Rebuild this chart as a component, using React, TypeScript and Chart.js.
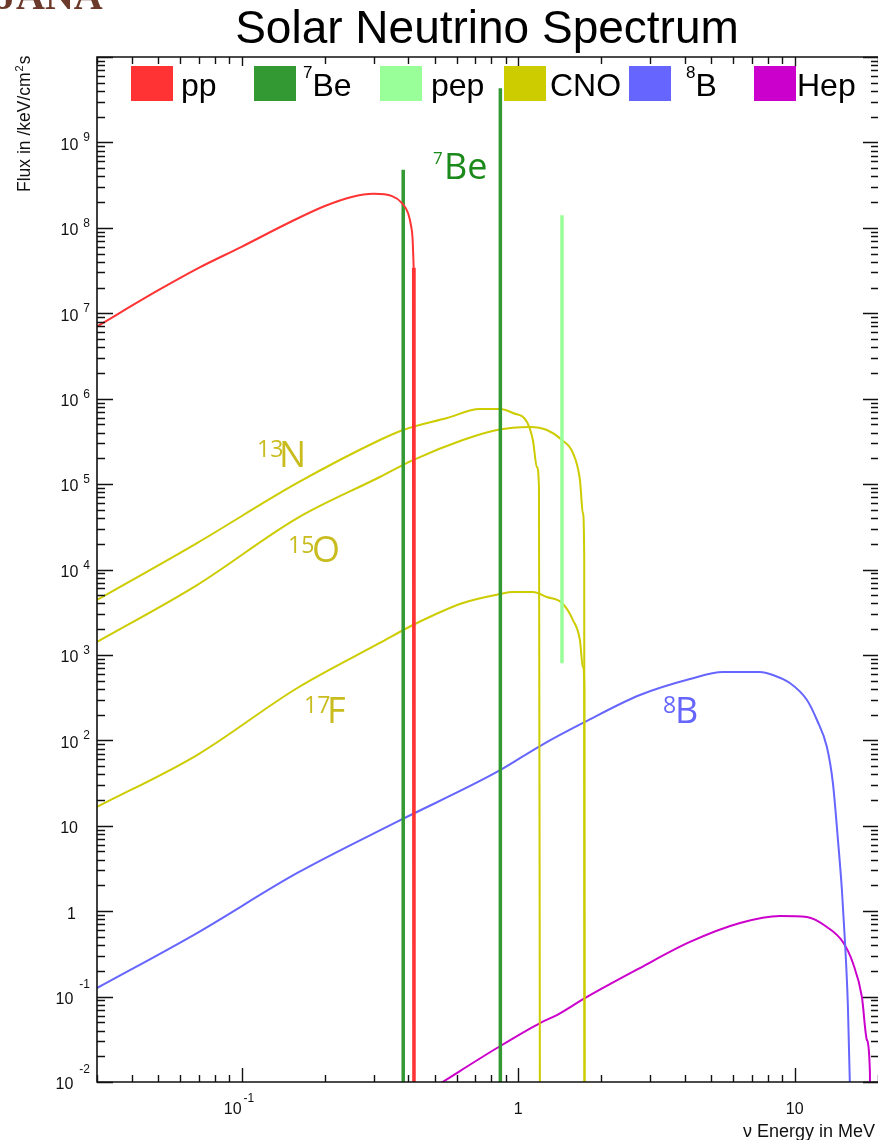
import React, { useEffect, useRef } from "react";
import { Chart, registerables } from "chart.js";

Chart.register(...registerables);

// ---- axis ranges ----
const xMin = 0.03;
const xMax = 20;
const yMin = 0.01;
const yMax = 1e10;

// ---- tick labels ----
const yLabelExponents = [-2, -1, 0, 1, 2, 3, 4, 5, 6, 7, 8, 9];
const xLabelExponents = [-1, 0, 1];

// ---- series (energy in MeV, flux in /keV/cm2s) ----
const ppEnergy = [0.03, 0.05, 0.07, 0.1, 0.15, 0.2, 0.25, 0.3, 0.35, 0.38, 0.4, 0.41, 0.415, 0.419, 0.42];
const ppFlux = [7.0e6, 1.86e7, 3.4e7, 6.0e7, 1.17e8, 1.8e8, 2.3e8, 2.5e8, 2.35e8, 1.95e8, 1.48e8, 1.05e8, 7.6e7, 3.4e7, 1e-3];

const be7Energy = [0.384, 0.862];
const be7Flux = [4.8e8, 4.3e9];

const pepEnergy = [1.44];
const pepFluxTop = [1.4e8];
const pepFluxBottom = [800];

const lineFloor = 1e-3;

const n13Energy = [0.03, 0.069, 0.159, 0.316, 0.384, 0.553, 0.727, 0.86, 0.957, 1.076, 1.13, 1.169, 1.189, 1.199];
const n13Flux = [4.4e3, 2.04e4, 1.03e5, 3.28e5, 4.3e5, 5.93e5, 7.56e5, 7.56e5, 6.79e5, 5.33e5, 3.28e5, 1.58e5, 9.2e4, 1e-3];

const o15Energy = [0.03, 0.069, 0.159, 0.316, 0.4165, 0.631, 0.838, 1.103, 1.27, 1.44, 1.578, 1.672, 1.714, 1.733, 1.735];
const o15Flux = [1.42e3, 6.58e3, 4.0e4, 1.21e5, 1.91e5, 3.28e5, 4.3e5, 4.66e5, 4.3e5, 3.28e5, 2.31e5, 1.12e5, 4.58e4, 1.4e4, 1e-3];

const f17Energy = [0.03, 0.069, 0.159, 0.316, 0.4165, 0.631, 0.86, 0.957, 1.13, 1.27, 1.44, 1.578, 1.672, 1.714, 1.735, 1.74];
const f17Flux = [16.6, 67.3, 410, 1.38e3, 2.24e3, 4.05e3, 5.16e3, 5.45e3, 5.45e3, 4.76e3, 4.05e3, 2.56e3, 1.49e3, 721, 450, 1e-3];

const b8Energy = [0.03, 0.069, 0.159, 0.364, 0.838, 1.199, 1.743, 2.755, 4.18, 5.5, 7.48, 8.34, 9.6, 11.07, 12.03, 13.07, 13.74, 14.33, 14.81, 15.18, 15.57, 16.09];
const b8Flux = [0.126, 0.555, 2.8, 11.1, 42.6, 85.8, 164, 339, 522, 631, 631, 582, 469, 297, 173, 83.5, 31.6, 6.8, 1.77, 0.459, 0.0755, 1e-3];

const hepEnergy = [0.52, 0.838, 1.199, 1.38, 1.743, 2.755, 4.18, 6.34, 8.84, 11.07, 13.07, 14.93, 16.23, 17.49, 18.24, 18.7, 18.75];
const hepFlux = [0.0095, 0.025, 0.049, 0.0608, 0.096, 0.216, 0.436, 0.726, 0.877, 0.855, 0.653, 0.436, 0.247, 0.099, 0.031, 0.0127, 1e-3];

// ---- legend ----
const legendSup = ["", "7", "", "", "8", ""];
const legendText = ["pp", "Be", "pep", "CNO", "B", "Hep"];
const legendColors = ["#ff3333", "#339933", "#99ff99", "#cccc00", "#6666ff", "#cc00cc"];

const SANS = '"Liberation Sans", Arial, Helvetica, sans-serif';
const LABEL = '"Open Sans", "Noto Sans", sans-serif';

const pts = (xs: number[], ys: number[]) => xs.map((x, i) => ({ x, y: ys[i] }));

const ds = (label: string, data: any[], color: string, width: number, smooth = false) => ({
  label,
  data,
  borderColor: color,
  backgroundColor: color,
  borderWidth: width,
  pointRadius: 0,
  pointHoverRadius: 0,
  fill: false,
  tension: 0,
  cubicInterpolationMode: smooth ? "monotone" : "default",
  clip: 0,
});

const decor = {
  id: "decor",
  afterDatasetsDraw(chart: any) {
    const { ctx, chartArea: a } = chart;
    const xs = chart.scales.x;
    const ys = chart.scales.y;
    ctx.save();

    // frame
    ctx.strokeStyle = "#111";
    ctx.lineWidth = 1.6;
    ctx.beginPath();
    ctx.moveTo(a.right + 2, a.top);
    ctx.lineTo(a.left, a.top);
    ctx.lineTo(a.left, a.bottom);
    ctx.lineTo(a.right + 2, a.bottom);
    ctx.stroke();

    // ticks
    ctx.lineWidth = 1.4;
    ctx.beginPath();
    for (let n = -2; n <= 10; n++) {
      for (let k = 1; k <= 9; k++) {
        const v = k * Math.pow(10, n);
        if (v < yMin * 0.999 || v > yMax * 1.001) continue;
        const py = Math.round(ys.getPixelForValue(v)) + 0.5;
        const major = k === 1;
        ctx.moveTo(a.left, py);
        ctx.lineTo(a.left + (major ? 16 : 8), py);
        ctx.moveTo(a.right, py);
        ctx.lineTo(a.right - (major ? 15 : 7), py);
      }
    }
    for (let n = -2; n <= 1; n++) {
      for (let k = 1; k <= 9; k++) {
        const v = k * Math.pow(10, n);
        if (v < xMin * 0.999 || v > xMax * 1.001) continue;
        const px = Math.round(xs.getPixelForValue(v)) + 0.5;
        const major = k === 1;
        ctx.moveTo(px, a.bottom);
        ctx.lineTo(px, a.bottom - (major ? 14 : 7));
        ctx.moveTo(px, a.top);
        ctx.lineTo(px, a.top + (major ? 9 : 7));
      }
    }
    ctx.stroke();

    // y tick labels
    ctx.fillStyle = "#111";
    for (const n of yLabelExponents) {
      const py = ys.getPixelForValue(Math.pow(10, n));
      ctx.textBaseline = "middle";
      if (n === 0 || n === 1) {
        ctx.font = `16px ${SANS}`;
        ctx.textAlign = "right";
        ctx.fillText(n === 0 ? "1" : "10", n === 0 ? 76 : 78, py + 3);
        continue;
      }
      const e = String(n);
      ctx.font = `12px ${SANS}`;
      const w = ctx.measureText(e).width;
      const expLeft = 90 - w;
      ctx.textAlign = "left";
      ctx.textBaseline = "alphabetic";
      ctx.fillText(e, expLeft, n < 0 ? py - 9 : py - 1);
      ctx.font = `16px ${SANS}`;
      ctx.textAlign = "right";
      ctx.textBaseline = "middle";
      ctx.fillText("10", expLeft - (n < 0 ? 6 : 5), py + 3);
    }

    // x tick labels
    for (const n of xLabelExponents) {
      const px = xs.getPixelForValue(Math.pow(10, n));
      ctx.textBaseline = "middle";
      ctx.font = `16px ${SANS}`;
      if (n === 0 || n === 1) {
        ctx.textAlign = "center";
        ctx.fillText(n === 0 ? "1" : "10", px, 1110);
        continue;
      }
      ctx.textAlign = "right";
      ctx.fillText("10", px, 1110);
      ctx.font = `12px ${SANS}`;
      ctx.textAlign = "left";
      ctx.textBaseline = "alphabetic";
      ctx.fillText(String(n), px + 2, 1102);
    }

    // axis titles
    ctx.font = `18px ${SANS}`;
    ctx.textAlign = "left";
    ctx.textBaseline = "alphabetic";
    ctx.fillText("\u03bd Energy in MeV", 743, 1137);

    ctx.save();
    ctx.translate(30, 192);
    ctx.rotate(-Math.PI / 2);
    ctx.font = `17.5px ${SANS}`;
    let tx = 0;
    ctx.fillText("Flux in /keV/cm", tx, 0);
    tx += ctx.measureText("Flux in /keV/cm").width + 1;
    ctx.font = `11px ${SANS}`;
    ctx.fillText("2", tx, -7);
    tx += ctx.measureText("2").width + 1;
    ctx.font = `17.5px ${SANS}`;
    ctx.fillText("s", tx, 0);
    ctx.restore();

    // title
    ctx.font = `46px ${SANS}`;
    ctx.textAlign = "center";
    ctx.fillStyle = "#000";
    ctx.fillText("Solar Neutrino Spectrum", 487, 43);

    // logo fragment
    ctx.font = `bold 40px "Liberation Serif", "DejaVu Serif", serif`;
    ctx.textAlign = "left";
    ctx.fillStyle = "#6b3a2a";
    ctx.fillText("JANA", -4, 9);

    // legend
    const boxX = [131, 254, 380, 504, 629, 754];
    const textX = [181, 303, 431, 550, 686, 797];
    for (let i = 0; i < legendText.length; i++) {
      ctx.fillStyle = legendColors[i];
      ctx.fillRect(boxX[i], 66, 42, 35);
      ctx.fillStyle = "#000";
      ctx.textAlign = "left";
      let x0 = textX[i];
      if (legendSup[i]) {
        ctx.font = `17px ${SANS}`;
        ctx.fillText(legendSup[i], x0, 78);
        x0 += ctx.measureText(legendSup[i]).width;
      }
      ctx.font = `32px ${SANS}`;
      ctx.fillText(legendText[i], x0, 96);
    }

    // curve annotations
    const ann = (sup: string, supSize: number, supX: number, supY: number, main: string, mainX: number, mainY: number, color: string) => {
      ctx.fillStyle = color;
      ctx.textAlign = "left";
      ctx.font = `${supSize}px ${LABEL}`;
      ctx.fillText(sup, supX, supY);
      ctx.font = `36px ${LABEL}`;
      ctx.fillText(main, mainX, mainY);
    };
    ann("7", 17, 433, 164, "Be", 444, 179, "#1b8a1b");
    ann("13", 23, 257, 457, "N", 279, 467, "#c8bc1e");
    ann("15", 23, 288, 553, "O", 312, 562, "#c8bc1e");
    ann("17", 23, 304, 713, "F", 327, 723, "#c8bc1e");
    ann("8", 23, 663, 713, "B", 675, 723, "#6666ff");

    ctx.restore();
  },
};

export default function App() {
  const ref = useRef<HTMLCanvasElement>(null);

  useEffect(() => {
    const canvas = ref.current;
    if (!canvas) return;
    const nPP = ppEnergy.length;
    const datasets = [
      ds("pp", pts(ppEnergy.slice(0, nPP - 1), ppFlux.slice(0, nPP - 1)), legendColors[0], 2, true),
      ds("pp-edge", pts(ppEnergy.slice(nPP - 2), ppFlux.slice(nPP - 2)), legendColors[0], 3.5),
      ...be7Energy.map((e, i) =>
        ds("7Be", [{ x: e, y: be7Flux[i] }, { x: e, y: lineFloor }], legendColors[1], 3.5)
      ),
      ...pepEnergy.map((e, i) =>
        ds("pep", [{ x: e, y: pepFluxTop[i] }, { x: e, y: pepFluxBottom[i] }], legendColors[2], 3.5)
      ),
      ds("13N", pts(n13Energy, n13Flux), legendColors[3], 2, true),
      ds("15O", pts(o15Energy, o15Flux), legendColors[3], 2, true),
      ds("17F", pts(f17Energy, f17Flux), legendColors[3], 2, true),
      ds("8B", pts(b8Energy, b8Flux), legendColors[4], 2, true),
      ds("Hep", pts(hepEnergy, hepFlux), legendColors[5], 2, true),
    ];
    const chart = new Chart(canvas, {
      type: "line",
      data: { datasets } as any,
      options: {
        responsive: false,
        animation: false,
        devicePixelRatio: 1,
        events: [],
        parsing: true,
        layout: { padding: { left: 97, right: 0, top: 57, bottom: 58 } },
        plugins: {
          legend: { display: false },
          tooltip: { enabled: false },
          title: { display: false },
        },
        scales: {
          x: { type: "logarithmic", min: xMin, max: xMax, display: false },
          y: { type: "logarithmic", min: yMin, max: yMax, display: false },
        },
      } as any,
      plugins: [decor],
    });
    return () => chart.destroy();
  }, []);

  return (
    <div style={{ position: "absolute", left: 0, top: 0, width: 878, height: 1140, background: "#fff", overflow: "hidden" }}>
      <canvas ref={ref} width={878} height={1140} style={{ display: "block" }} />
    </div>
  );
}
